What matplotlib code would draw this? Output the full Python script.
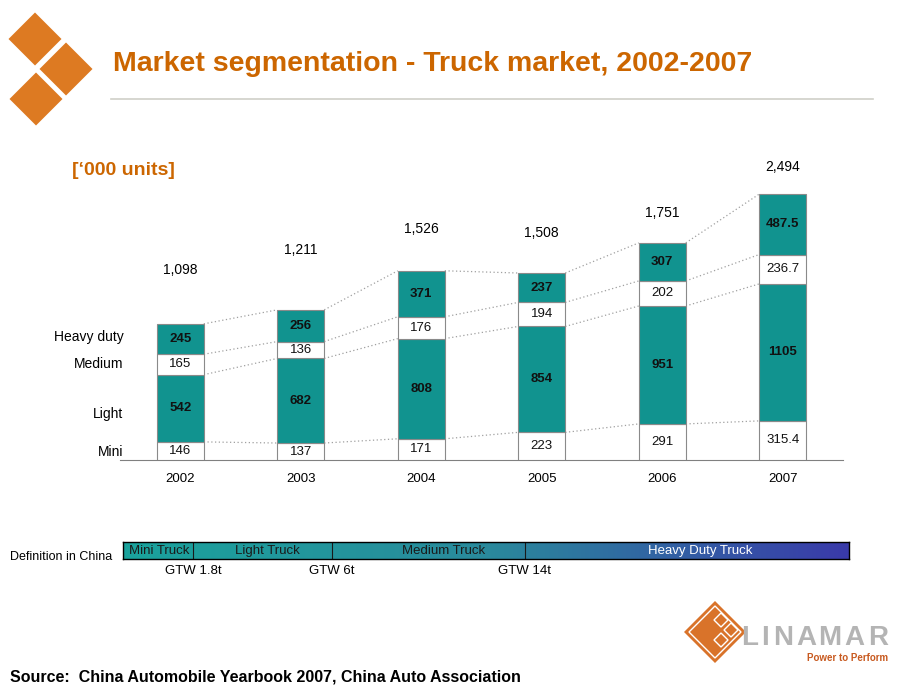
import numpy as np
import matplotlib.pyplot as plt
from matplotlib.patches import Polygon
from matplotlib.colors import LinearSegmentedColormap

# data ('000 units)
years = ['2002', '2003', '2004', '2005', '2006', '2007']
mini = [146, 137, 171, 223, 291, 315.4]
light = [542, 682, 808, 854, 951, 1105]
medium = [165, 136, 176, 194, 202, 236.7]
heavy = [245, 256, 371, 237, 307, 487.5]
totals = ['1,098', '1,211', '1,526', '1,508', '1,751', '2,494']
segment_names = ['Mini', 'Light', 'Medium', 'Heavy duty']

truck_classes = ['Mini Truck', 'Light Truck', 'Medium Truck', 'Heavy Duty Truck']
gtw_limits = ['GTW 1.8t', 'GTW 6t', 'GTW 14t']

# layout
total_label_y = [1530, 1690, 1860, 1830, 1990, 2360]
segment_label_shift = [-10, -50, 0, 20]
class_edges = [0.0967, 0.2879, 0.5537]
class_label_x = [0.050, 0.199, 0.441, 0.795]
logo_letter_x = [750, 765, 783, 806, 830, 854, 878]

TEAL = '#11938f'
ORANGE = '#cc6600'
EDGE = '#8a8a8a'
NARROW = ['Liberation Sans Narrow', 'Liberation Sans']

plt.rcParams['font.family'] = ['Liberation Sans', 'DejaVu Sans']

fig = plt.figure(figsize=(9.2, 6.9), dpi=100)

# ---- decorations in pixel coordinates
deco = fig.add_axes([0, 0, 1, 1])
deco.set_xlim(0, 920)
deco.set_ylim(690, 0)
deco.axis('off')


def diamond(cx, cy, r, **kw):
    return Polygon([(cx, cy - r), (cx + r, cy), (cx, cy + r), (cx - r, cy)], closed=True, **kw)


for cx, cy in [(35, 39), (66, 69), (36, 99)]:
    deco.add_patch(diamond(cx, cy, 26.5, facecolor='#dd7a22', edgecolor='none'))

deco.text(113, 71, 'Market segmentation - Truck market, 2002-2007', color=ORANGE,
          fontsize=20.5, fontweight='bold', ha='left', va='baseline')
deco.plot([111, 873], [99, 99], color='#d0d0c8', lw=1.2)
deco.text(72, 175, '[\u2018000 units]', color=ORANGE, fontsize=14,
          fontweight='bold', ha='left', va='baseline')

deco.text(10, 560, 'Definition in China', fontsize=9, ha='left', va='baseline')
deco.text(10, 681, 'Source:  China Automobile Yearbook 2007, China Auto Association',
          fontsize=11.5, fontweight='bold', ha='left', va='baseline')

# linamar logo
deco.add_patch(diamond(715, 632, 31, facecolor='#d9732a', edgecolor='none'))
deco.add_patch(diamond(715, 632, 26, facecolor='none', edgecolor='white', lw=1))
for cx, cy in [(721, 620), (731, 630), (721, 640)]:
    deco.add_patch(diamond(cx, cy, 7, facecolor='#d9732a', edgecolor='white', lw=1))
for lx, ch in zip(logo_letter_x, 'LINAMAR'):
    deco.text(lx, 645, ch, color='#b4b4b4', fontsize=20, fontweight='bold',
              ha='center', va='baseline', family=NARROW)
deco.text(888, 661, 'Power to Perform', color='#c85a20', fontsize=7,
          fontweight='bold', ha='right', va='baseline', family=NARROW)

# ---- stacked bars
ax = fig.add_axes([120 / 920, 230 / 690, 723 / 920, 310 / 690])
x = np.arange(len(years))
w = 0.39
layers = [mini, light, medium, heavy]
fills = ['white', TEAL, 'white', TEAL]
bottom = np.zeros(len(years))
tops = []
for vals, fc in zip(layers, fills):
    vals = np.array(vals, dtype=float)
    ax.bar(x, vals, w, bottom=bottom, color=fc, edgecolor=EDGE, linewidth=0.8, zorder=3)
    for xi, b, v in zip(x, bottom, vals):
        ax.text(xi, b + v / 2, f'{v:g}', ha='center', va='center', fontsize=9.5,
                fontweight='bold' if fc == TEAL else 'normal', color='#111111', zorder=4)
    bottom = bottom + vals
    tops.append(bottom.copy())

# dotted connectors between bars
for lvl in tops:
    for i in range(len(years) - 1):
        ax.plot([x[i] + w / 2, x[i + 1] - w / 2], [lvl[i], lvl[i + 1]],
                color='#a0a0a0', ls=(0, (1, 2)), lw=0.9, zorder=2)

for xi, t, yy in zip(x, totals, total_label_y):
    ax.text(xi, yy, t, ha='center', va='center', fontsize=10)

# segment names next to the first bar
start = 0
for name, vals, sh in zip(segment_names, layers, segment_label_shift):
    ax.text(-0.47, start + vals[0] / 2 + sh, name, ha='right', va='center', fontsize=10)
    start += vals[0]

ax.set_xlim(-0.5, 5.5)
ax.set_ylim(0, 2500)
ax.set_xticks(x, years, fontsize=9.5)
ax.tick_params(axis='x', length=0, pad=9)
ax.set_yticks([])
for s in ['left', 'right', 'top']:
    ax.spines[s].set_visible(False)
ax.spines['bottom'].set_color('#808080')
ax.patch.set_alpha(0)

# ---- truck class definition bar
dax = fig.add_axes([123 / 920, (690 - 559) / 690, 726 / 920, 17 / 690])
cmap = LinearSegmentedColormap.from_list('def', ['#1aa39c', '#2a8a9c', '#3a3aaa'])
dax.imshow(np.linspace(0, 1, 256).reshape(1, -1), aspect='auto', cmap=cmap,
           extent=(0, 1, 0, 1))
dax.set_xlim(0, 1)
dax.set_ylim(0, 1)
dax.set_xticks([])
dax.set_yticks([])
for s in dax.spines.values():
    s.set_color('black')
    s.set_linewidth(1)
for e in class_edges:
    dax.axvline(e, color='#1a1a1a', lw=0.8)
for i, (name, cx) in enumerate(zip(truck_classes, class_label_x)):
    dax.text(cx, 0.45, name, ha='center', va='center', fontsize=9.5,
             color='white' if i == 3 else '#1a1a1a', family=NARROW)
for e, lab in zip(class_edges, gtw_limits):
    dax.text(e, -0.7, lab, ha='center', va='center', fontsize=9.5, family=NARROW)

fig.savefig('out.png', dpi=100)
